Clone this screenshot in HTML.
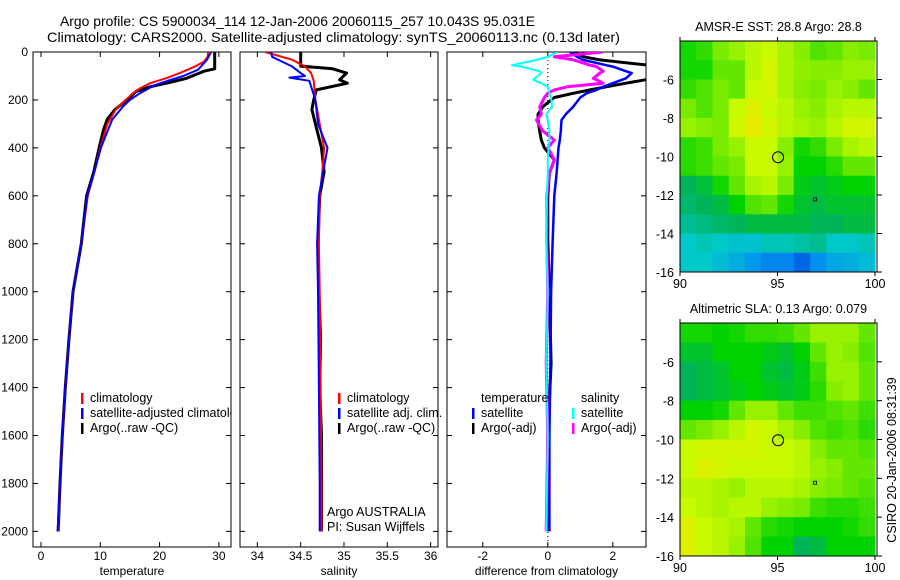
<!DOCTYPE html>
<html><head><meta charset="utf-8"><title>Argo profile</title>
<style>
html,body{margin:0;padding:0;background:#fff;}
svg{display:block;font-family:"Liberation Sans",sans-serif;}
</style></head>
<body>
<svg id="chart" width="900" height="580" viewBox="0 0 900 580" xmlns="http://www.w3.org/2000/svg">
<text x="60" y="26" font-size="14" textLength="475" lengthAdjust="spacingAndGlyphs">Argo profile: CS 5900034_114 12-Jan-2006 20060115_257 10.043S 95.031E</text>
<text x="47" y="42" font-size="14" textLength="573" lengthAdjust="spacingAndGlyphs">Climatology: CARS2000. Satellite-adjusted climatology: synTS_20060113.nc (0.13d later)</text>
<g id="layer"></g>
</svg>
<script>
// ---------- data ----------
const tempDepthRed = [0,20,40,60,88,110,130,150,172,200,240,300,400,500,600,800,1000,1200,1400,1600,1800,2000];
const tempRed      = [28.2,28.1,27.5,26,23.4,21,18.4,16.8,15.5,14.3,12.6,11.2,10,9,7.9,6.8,5.4,4.7,4.1,3.6,3.2,2.9];
const tempDepthBlue = [0,32,74,100,117,140,172,200,228,283,400,500,600,800,1000,1200,1400,1600,1800,2000];
const tempBlue      = [28.7,28,26.5,24,21.8,19,16.7,15,13.8,12,10.1,9,7.8,6.8,5.4,4.7,4.1,3.6,3.2,2.8];
const tempDepthArgo = [0,70,80,90,110,125,145,165,200,240,280,320,400,500,600,800,1000,1200,1400,1600,1800,2000];
const tempArgo      = [29.3,29.3,27.5,26.5,24.5,22,18.4,16,14.5,12.5,11.2,10.6,9.8,8.9,7.7,6.8,5.4,4.7,4.1,3.6,3.2,2.9];

const salDepthRed = [0,32,60,88,120,200,300,400,500,600,800,1000,1400,1800,2000];
const salRed      = [34.09,34.4,34.55,34.62,34.65,34.67,34.72,34.77,34.75,34.72,34.71,34.72,34.73,34.74,34.74];
const salDepthBlue = [0,20,60,88,100,107,120,200,300,400,500,600,800,1000,1400,1800,2000];
const salBlue      = [34.16,34.17,34.4,34.5,34.55,34.37,34.6,34.67,34.7,34.81,34.76,34.71,34.69,34.7,34.71,34.72,34.72];
const salDepthArgo = [0,59,70,88,116,130,158,200,240,300,400,500,600,800,1000,1200,1400,1600,1800,2000];
const salArgo      = [34.5,34.5,34.87,35.03,34.95,35.04,34.68,34.65,34.63,34.67,34.74,34.77,34.72,34.7,34.71,34.73,34.72,34.74,34.74,34.74];

const diffDepth = [0,20,33,55,61,80,88,110,116,130,145,158,172,190,228,260,284,330,367,400,450,506,600,784,1000,1300,1600,2000];
const diffTempSat  = [0.68,0.9,1.08,1.8,2.0,2.4,2.58,2.4,2.28,2.0,1.7,1.5,1.2,1.0,0.78,0.55,0.42,0.4,0.37,0.33,0.3,0.27,0.2,0.15,0.1,0.08,0.05,0.05];
const diffTempArgo = [0.8,1.1,1.6,3.1,3.2,3.3,3.3,3.2,3.0,2.4,1.8,1.3,0.8,0.2,-0.15,-0.3,-0.3,-0.25,-0.2,-0.1,0.2,0.05,0.0,0.0,0.05,0.1,0.0,0.0];
const diffSalSat   = [0.3,0.0,-0.34,-1.1,-0.8,-0.25,-0.2,-0.4,-0.45,-0.2,0.0,0.03,0.05,0.1,0.13,-0.05,0.0,0.05,0.05,0.02,0.0,0.0,-0.03,-0.05,0.0,-0.05,0.0,-0.05];
const diffSalArgo  = [1.7,0.2,0.8,1.3,1.5,1.7,1.6,1.4,1.5,1.7,0.6,0.2,0.0,-0.1,-0.25,-0.2,-0.35,-0.15,0.2,0.0,0.2,0.05,-0.03,-0.03,0.0,-0.05,0.0,-0.05];

const yTicks = [0,200,400,600,800,1000,1200,1400,1600,1800,2000];
const tempTicks = [0,10,20,30];
const salTicks = [34,34.5,35,35.5,36];
const diffTicks = [-2,0,2];
const latTicks = [-6,-8,-10,-12,-14,-16];
const lonTicks = [90,95,100];

const sstGrid = [
[0.52,0.55,0.62,0.66,0.7,0.72,0.68,0.64,0.58,0.6,0.64,0.62],
[0.52,0.52,0.6,0.6,0.7,0.74,0.68,0.65,0.64,0.64,0.66,0.66],
[0.55,0.58,0.62,0.6,0.72,0.74,0.68,0.64,0.62,0.66,0.64,0.6],
[0.62,0.58,0.62,0.72,0.76,0.72,0.7,0.66,0.64,0.68,0.7,0.7],
[0.66,0.64,0.62,0.74,0.78,0.74,0.7,0.68,0.66,0.7,0.74,0.74],
[0.54,0.56,0.62,0.66,0.72,0.72,0.64,0.52,0.55,0.62,0.68,0.7],
[0.54,0.56,0.6,0.62,0.72,0.72,0.66,0.5,0.5,0.54,0.6,0.6],
[0.42,0.45,0.52,0.6,0.68,0.7,0.62,0.48,0.46,0.48,0.5,0.5],
[0.4,0.42,0.44,0.5,0.58,0.6,0.52,0.46,0.44,0.46,0.46,0.46],
[0.36,0.38,0.4,0.42,0.44,0.44,0.44,0.44,0.42,0.42,0.44,0.44],
[0.3,0.32,0.3,0.28,0.28,0.32,0.32,0.34,0.36,0.3,0.3,0.32],
[0.3,0.3,0.26,0.22,0.16,0.12,0.12,0.06,0.14,0.2,0.22,0.26]];
const slaGrid = [
[0.52,0.52,0.5,0.52,0.55,0.55,0.56,0.6,0.66,0.66,0.66,0.6],
[0.46,0.46,0.5,0.5,0.5,0.48,0.46,0.5,0.6,0.66,0.64,0.58],
[0.42,0.44,0.46,0.5,0.5,0.46,0.44,0.48,0.56,0.66,0.66,0.6],
[0.42,0.44,0.46,0.48,0.5,0.48,0.46,0.48,0.54,0.64,0.66,0.6],
[0.5,0.5,0.52,0.6,0.66,0.66,0.6,0.56,0.56,0.58,0.6,0.56],
[0.6,0.62,0.66,0.7,0.74,0.72,0.68,0.64,0.58,0.56,0.58,0.54],
[0.72,0.74,0.74,0.74,0.74,0.72,0.72,0.7,0.64,0.6,0.6,0.58],
[0.72,0.76,0.74,0.72,0.72,0.72,0.72,0.7,0.66,0.64,0.6,0.6],
[0.7,0.7,0.68,0.66,0.7,0.7,0.7,0.68,0.64,0.62,0.6,0.58],
[0.72,0.7,0.68,0.7,0.7,0.66,0.64,0.62,0.56,0.54,0.54,0.56],
[0.76,0.72,0.7,0.68,0.6,0.54,0.52,0.5,0.5,0.5,0.52,0.55],
[0.76,0.72,0.7,0.66,0.58,0.5,0.5,0.42,0.44,0.5,0.5,0.5]];
const floatLon = 95.03, floatLat = -10.04;

// ---------- helpers ----------
const NS = "http://www.w3.org/2000/svg";
const layer = document.getElementById('layer');
function mk(tag, attrs, parent) {
  const e = document.createElementNS(NS, tag);
  for (const k in attrs) e.setAttribute(k, attrs[k]);
  (parent || layer).appendChild(e);
  return e;
}
const yD = d => 52 + d * 0.2397;

const panels = [
  {name:'temperature', x0:33, x1:231, vmin:-1.35, vmax:32.05, ticks:tempTicks, label:'temperature'},
  {name:'salinity', x0:240, x1:438, vmin:33.8, vmax:36.085, ticks:salTicks, label:'salinity'},
  {name:'difference', x0:447, x1:646, vmin:-3.1, vmax:3.02, ticks:diffTicks, label:'difference from climatology'}
];
panels.forEach(p => { p.sx = v => p.x0 + (v - p.vmin) / (p.vmax - p.vmin) * (p.x1 - p.x0); });

function drawPanel(p, idx) {
  const g = mk('g', {});
  
  
  const clip = mk('clipPath', {id:'clip' + idx}, g);
  mk('rect', {x:p.x0, y:52, width:p.x1 - p.x0, height:495}, clip);
  const frame = mk('rect', {x:p.x0, y:52, width:p.x1 - p.x0, height:495, fill:'none', stroke:'#000', 'stroke-width':1}, g);
  
  
  yTicks.forEach(t => {
    const y = yD(t);
    mk('line', {x1:p.x0, x2:p.x0 + 5, y1:y, y2:y, stroke:'#000'}, g);
    mk('line', {x1:p.x1, x2:p.x1 - 5, y1:y, y2:y, stroke:'#000'}, g);
    if (idx === 0) {
      const tl = mk('text', {x:28, y:y + 4, 'font-size':12, 'text-anchor':'end'}, g);
      tl.textContent = t;
      
      
    }
  });
  p.ticks.forEach(t => {
    const x = p.sx(t);
    mk('line', {x1:x, x2:x, y1:547, y2:542, stroke:'#000'}, g);
    mk('line', {x1:x, x2:x, y1:52, y2:57, stroke:'#000'}, g);
    const tl = mk('text', {x:x, y:560, 'font-size':12, 'text-anchor':'middle'}, g);
    tl.textContent = t;
    
    
  });
  const al = mk('text', {x:(p.x0 + p.x1) / 2, y:575, 'font-size':12, 'text-anchor':'middle'}, g);
  al.textContent = p.label;
  
  
  return mk('g', {'clip-path':'url(#clip' + idx + ')'}, g);
}

function line(g, p, depths, vals, color, w, name) {
  const pts = depths.map((d, i) => p.sx(vals[i]).toFixed(1) + ',' + yD(d).toFixed(1)).join(' ');
  const l = mk('polyline', {points:pts, fill:'none', stroke:color, 'stroke-width':w, 'stroke-linejoin':'round'}, g);
  
  
}

function legend(items, x, y0) {
  items.forEach((it, i) => {
    const y = y0 + i * 15;
    if (it.c) mk('rect', {x:x, y:y - 9, width:2.5, height:11, fill:it.c});
    const t = mk('text', {x:x + 9, y:y, 'font-size':12.5});
    t.textContent = it.t;
    
    
  });
}

// temperature
const g0 = drawPanel(panels[0], 0);
line(g0, panels[0], tempDepthArgo, tempArgo, '#000', 3, 'argo-temperature-line');
line(g0, panels[0], tempDepthRed, tempRed, '#f00', 2, 'climatology-temperature-line');
line(g0, panels[0], tempDepthBlue, tempBlue, '#00f', 2, 'satellite-temperature-line');
const lg0 = mk('g', {'clip-path':'url(#clip0)'});


[['climatology','#f00'],['satellite-adjusted climatology','#00f'],['Argo(..raw -QC)','#000']].forEach((it, i) => {
  const y = 402 + i * 15;
  mk('rect', {x:81, y:y - 9, width:2.5, height:11, fill:it[1]}, lg0);
  const t = mk('text', {x:90, y:y, 'font-size':12.5}, lg0);
  t.textContent = it[0];
  
  
});

// salinity
const g1 = drawPanel(panels[1], 1);
line(g1, panels[1], salDepthArgo, salArgo, '#000', 3, 'argo-salinity-line');
line(g1, panels[1], salDepthRed, salRed, '#f00', 2, 'climatology-salinity-line');
line(g1, panels[1], salDepthBlue, salBlue, '#00f', 2, 'satellite-salinity-line');
legend([{t:'climatology',c:'#f00'},{t:'satellite adj. clim.',c:'#00f'},{t:'Argo(..raw -QC)',c:'#000'}], 338, 402);
legend([{t:'Argo AUSTRALIA'},{t:'PI: Susan Wijffels'}], 318, 516);

// difference
const g2 = drawPanel(panels[2], 2);
const zx = panels[2].sx(0);
const zl = mk('line', {x1:zx, x2:zx, y1:52, y2:547, stroke:'#000', 'stroke-dasharray':'1,3'}, g2);


line(g2, panels[2], diffDepth, diffTempArgo, '#000', 3, 'argo-temperature-difference');
line(g2, panels[2], diffDepth, diffTempSat, '#00f', 2.5, 'satellite-temperature-difference');
line(g2, panels[2], diffDepth, diffSalArgo, '#f0f', 3, 'argo-salinity-difference');
line(g2, panels[2], diffDepth, diffSalSat, '#0ff', 2, 'satellite-salinity-difference');
legend([{t:'temperature'},{t:'satellite',c:'#00f'},{t:'Argo(-adj)',c:'#000'}], 472, 402);
legend([{t:'salinity'},{t:'satellite',c:'#0ff'},{t:'Argo(-adj)',c:'#f0f'}], 572, 402);

// ---------- maps ----------
const stops = [[0,[0,70,220]],[0.15,[0,150,240]],[0.3,[0,200,200]],[0.42,[0,180,90]],[0.5,[0,210,0]],[0.62,[120,235,0]],[0.72,[200,250,0]],[0.8,[240,230,0]],[0.9,[255,190,0]],[1,[255,120,0]]];
function cmap(v) {
  for (let i = 1; i < stops.length; i++) {
    if (v <= stops[i][0]) {
      const a = stops[i-1], b = stops[i], f = (v - a[0]) / (b[0] - a[0]);
      const c = a[1].map((x, k) => Math.round(x + (b[1][k] - x) * f));
      return 'rgb(' + c.join(',') + ')';
    }
  }
  return 'rgb(255,120,0)';
}
function drawMap(grid, y0, y1, title, name) {
  const x0 = 680, x1 = 877;
  const lon = v => x0 + (v - 90) / 10 * (x1 - x0 - 2);
  const lat = v => y0 + (-4 - v) / 12 * (y1 - y0);
  const g = mk('g', {});
  
  
  const rows = grid.length, cols = grid[0].length;
  grid.forEach((row, r) => row.forEach((v, c) => {
    const cx0 = lon(90 + c * 10 / cols), cx1 = lon(90 + (c + 1) * 10 / cols);
    const cy0 = lat(-4 - r * 12 / rows), cy1 = lat(-4 - (r + 1) * 12 / rows);
    const cell = mk('rect', {x:cx0, y:cy0, width:cx1 - cx0 + 0.5, height:cy1 - cy0 + 0.5, fill:cmap(v)}, g);
    
    
  }));
  mk('rect', {x:x0, y:y0, width:x1 - x0, height:y1 - y0, fill:'none', stroke:'#000'}, g);
  latTicks.forEach(t => {
    const y = lat(t);
    mk('line', {x1:x1, x2:x1 + 5, y1:y, y2:y, stroke:'#000'}, g);
    const tl = mk('text', {x:674, y:y + 5, 'font-size':12.5, 'text-anchor':'end'}, g);
    tl.textContent = t;
    
    
  });
  lonTicks.forEach(t => {
    const x = lon(t);
    mk('line', {x1:x, x2:x, y1:y0, y2:y0 - 4, stroke:'#000'}, g);
    mk('line', {x1:x, x2:x, y1:y1, y2:y1 + 4, stroke:'#000'}, g);
    const tl = mk('text', {x:x, y:y1 + 16, 'font-size':12.5, 'text-anchor':'middle'}, g);
    tl.textContent = t;
    
    
  });
  const tt = mk('text', {x:(x0 + x1) / 2, y:y0 - 10, 'font-size':12.5, 'text-anchor':'middle'}, g);
  tt.textContent = title;
  
  
  const m = mk('circle', {cx:lon(floatLon), cy:lat(floatLat), r:5.5, fill:'none', stroke:'#000'}, g);
  
  
  mk('rect', {x:lon(96.85), y:lat(-12.15), width:3, height:3, fill:'none', stroke:'#000', 'stroke-width':0.8}, g);
}
drawMap(sstGrid, 41, 272, 'AMSR-E SST: 28.8 Argo: 28.8', 'sst-map');
drawMap(slaGrid, 323, 556, 'Altimetric SLA: 0.13 Argo: 0.079', 'sla-map');

const st = mk('text', {x:0, y:0, 'font-size':12.5, 'text-anchor':'middle', transform:'translate(896,460) rotate(-90)'});
st.textContent = 'CSIRO 20-Jan-2006 08:31:39';


</script>
</body></html>
